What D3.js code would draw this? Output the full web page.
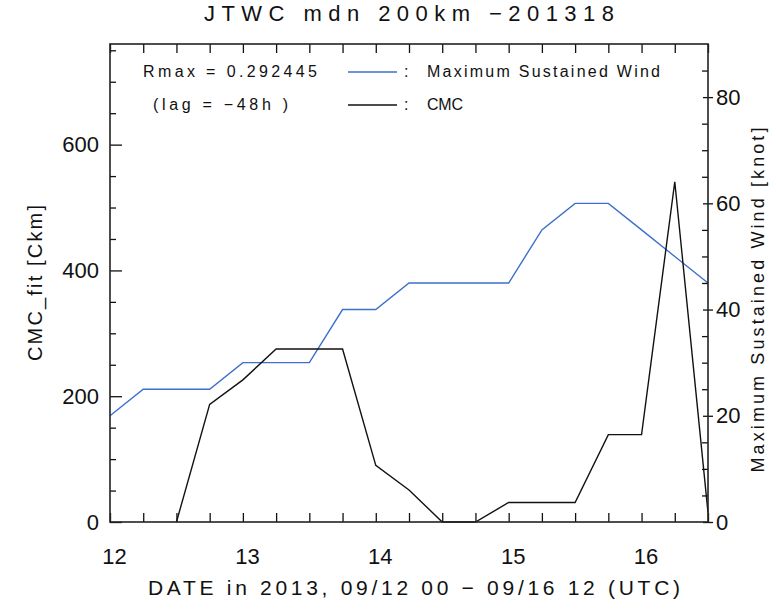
<!DOCTYPE html>
<html>
<head>
<meta charset="utf-8">
<script src="https://cdn.jsdelivr.net/npm/d3@7"></script>
<style>
  html, body { margin: 0; padding: 0; background: #fff; }
  svg text { font-family: "Liberation Sans", Arial, sans-serif; fill: #111; }
</style>
</head>
<body>
<svg id="chart" width="776" height="609"></svg>
<script>
// ---- data (6-hourly, hours since 2013-09-12 00 UTC) ----
const hours = [0, 6, 12, 18, 24, 30, 36, 42, 48, 54, 60, 66, 72, 78, 84, 90, 96, 102, 108];
const windKnots = [20, 25, 25, 25, 30, 30, 30, 40, 40, 45, 45, 45, 45, 55, 60, 60, 55, 50, 45];
const cmcCkm = [null, null, 0, 187, 226, 275, 275, 275, 90, 51, 0, 0, 31, 31, 31, 139, 139, 541, 15];
const dayTicks = [0, 24, 48, 72, 96];
const dayLabels = ["12", "13", "14", "15", "16"];
const leftTicks = [0, 200, 400, 600];
const rightTicks = [0, 20, 40, 60, 80];
const titleText = "JTWC mdn 200km \u2212201318";
const xTitle = "DATE in 2013, 09/12 00 \u2212 09/16 12 (UTC)";
const yLeftTitle = "CMC_fit [Ckm]";
const yRightTitle = "Maximum Sustained Wind [knot]";
const legendStat1 = "Rmax = 0.292445";
const legendStat2 = "(lag = \u221248h )";
const seriesNames = ["Maximum Sustained Wind", "CMC"];

// ---- layout ----
const L = 110, R = 708, T = 44, B = 522;
const svg = d3.select("#chart");
const x = d3.scaleLinear().domain([0, 108]).range([L, R]);
const yL = d3.scaleLinear().domain([0, 760]).range([B, T]);
const yR = d3.scaleLinear().domain([0, 90]).range([B, T]);
const blue = "#3d6fcc";

// lines
const windLine = d3.line().x((d, i) => x(hours[i])).y(d => yR(d));
const cmcLine = d3.line().defined(d => d !== null).x((d, i) => x(hours[i])).y(d => yL(d));

svg.append("path").datum(windKnots).attr("d", windLine)
  .attr("fill", "none").attr("stroke", blue).attr("stroke-width", 1.4);
svg.append("path").datum(cmcCkm).attr("d", cmcLine)
  .attr("fill", "none").attr("stroke", "#111").attr("stroke-width", 1.4);

// ticks via axes
const minorX = hours;
const gB = svg.append("g").attr("transform", `translate(0,${B})`)
  .call(d3.axisBottom(x).tickValues(minorX).tickSize(-9).tickFormat(""));
const gT = svg.append("g").attr("transform", `translate(0,${T})`)
  .call(d3.axisTop(x).tickValues(minorX).tickSize(-9).tickFormat(""));
const leftMinor = [50,100,150,250,300,350,450,500,550,650,700,750];
const gLm = svg.append("g").attr("transform", `translate(${L},0)`)
  .call(d3.axisLeft(yL).tickValues(leftMinor).tickSize(-6).tickFormat(""));
const gLM = svg.append("g").attr("transform", `translate(${L},0)`)
  .call(d3.axisLeft(yL).tickValues(leftTicks).tickSize(-12).tickPadding(11).tickFormat(d3.format("d")));
const rightMinor = [5,10,15,25,30,35,45,50,55,65,70,75,85];
const gRm = svg.append("g").attr("transform", `translate(${R},0)`)
  .call(d3.axisRight(yR).tickValues(rightMinor).tickSize(-6).tickFormat(""));
const gRM = svg.append("g").attr("transform", `translate(${R},0)`)
  .call(d3.axisRight(yR).tickValues(rightTicks).tickSize(5).tickPadding(3).tickFormat(d3.format("d")));
const gBL = svg.append("g").attr("transform", `translate(4,${B})`)
  .call(d3.axisBottom(x).tickValues(dayTicks).tickSize(0).tickPadding(26)
    .tickFormat((d, i) => dayLabels[i]));

[gB, gT, gLm, gLM, gRm, gRM, gBL].forEach(g => {
  g.select(".domain").remove();
  g.selectAll("line").attr("stroke", "#111").attr("stroke-width", 1.3);
  g.selectAll("text").attr("font-size", 22).attr("fill", "#111")
    .attr("font-family", "Liberation Sans, Arial, sans-serif");
});
gRM.selectAll("line").attr("x1", -5);
gLM.selectAll("text").attr("x", -11);

// frame
svg.append("rect").attr("x", L).attr("y", T).attr("width", R - L).attr("height", B - T)
  .attr("fill", "none").attr("stroke", "#222").attr("stroke-width", 1.6);

// title
svg.append("text").attr("x", 204).attr("y", 21).attr("font-size", 22)
  .attr("textLength", 410).attr("lengthAdjust", "spacing").text(titleText);

// x axis title
svg.append("text").attr("x", 148).attr("y", 595).attr("font-size", 21)
  .attr("textLength", 532).attr("lengthAdjust", "spacing").text(xTitle);

// left y title
svg.append("text").attr("transform", "translate(42,283) rotate(-90)")
  .attr("text-anchor", "middle").attr("font-size", 20)
  .attr("textLength", 156).attr("lengthAdjust", "spacing").text(yLeftTitle);
// right y title
svg.append("text").attr("transform", "translate(764,300) rotate(-90)")
  .attr("text-anchor", "middle").attr("font-size", 18)
  .attr("textLength", 345).attr("lengthAdjust", "spacing").text(yRightTitle);

// legend
svg.append("text").attr("x", 143).attr("y", 77).attr("font-size", 16)
  .attr("textLength", 174).attr("lengthAdjust", "spacing").text(legendStat1);
svg.append("text").attr("x", 153).attr("y", 110).attr("font-size", 16)
  .attr("textLength", 135).attr("lengthAdjust", "spacing").text(legendStat2);
const legendY = [72, 105];
const legendCol = [blue, "#111"];
const legendLen = [233, 36];
seriesNames.forEach((name, i) => {
  svg.append("line").attr("x1", 348).attr("x2", 397).attr("y1", legendY[i]).attr("y2", legendY[i])
    .attr("stroke", legendCol[i]).attr("stroke-width", 1.4);
  svg.append("text").attr("x", 404).attr("y", legendY[i] + 5).attr("font-size", 16).text(":");
  svg.append("text").attr("x", 427).attr("y", legendY[i] + 5).attr("font-size", 16)
    .attr("textLength", legendLen[i]).attr("lengthAdjust", "spacing").text(name);
});
</script>
</body>
</html>
